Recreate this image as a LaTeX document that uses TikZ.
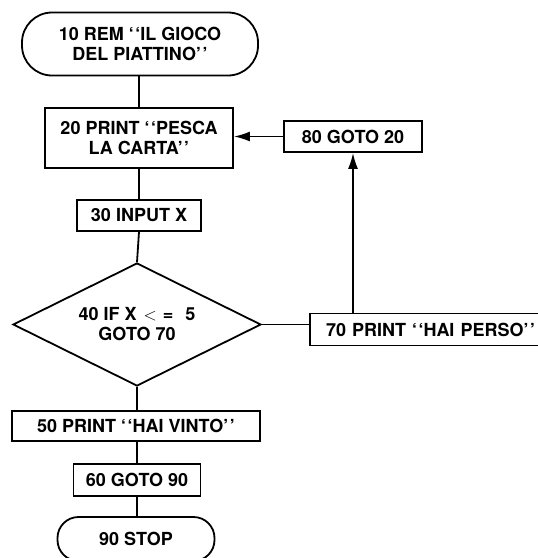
\documentclass[tikz,border=0pt]{standalone}
\usepackage{fontspec}
\setmainfont{TeX Gyre Heros}
\usetikzlibrary{shapes.geometric,arrows.meta}
\newcommand{\oq}{‘\kern1.5pt‘}
\newcommand{\cq}{’\kern1.5pt’}
\tikzset{
  every node/.style={font=\fontsize{18}{20}\selectfont\bfseries, align=center, inner sep=0pt},
  box/.style={draw, line width=1.8pt, rectangle},
  term/.style={draw, line width=1.8pt, rectangle},
  conn/.style={line width=1.8pt},
  arr/.style={line width=1.8pt, -{Latex[length=16pt,width=10pt]}},
}
\begin{document}
\begin{tikzpicture}[x=1pt,y=-1pt]
\clip (0,0) rectangle (538,558);
\fill[white] (0,0) rectangle (538,558);
\node[term, rounded corners=30pt, minimum width=236pt, minimum height=63pt] (t1) at (140,44) {10 REM \oq IL GIOCO\\DEL PIATTINO\cq};
\node[box, minimum width=188pt, minimum height=60pt] (b20) at (139,138) {20 PRINT \oq PESCA\\LA CARTA\cq};
\node[box, minimum width=124pt, minimum height=31pt] (b30) at (139,215.5) {30 INPUT X};
\node[draw, line width=1.8pt, diamond, aspect=2, minimum width=248pt, minimum height=123pt] (d40) at (137,324.5) {40 IF X\kern7pt$<$\kern6pt=\kern12pt5\\GOTO 70};
\node[box, minimum width=248pt, minimum height=30pt] (b50) at (136,426) {50 PRINT \oq HAI VINTO\cq};
\node[box, minimum width=127pt, minimum height=32pt] (b60) at (137,480) {60 GOTO 90};
\node[term, rounded corners=21pt, minimum width=157pt, minimum height=44pt] (t90) at (136,539) {90 STOP};
\node[box, minimum width=138pt, minimum height=31pt] (b80) at (353,136.5) {80 GOTO 20};
\node[box, minimum width=240pt, minimum height=32pt, text width=226pt, align=left] (b70) at (430,329.5) {\hspace*{9pt}70 PRINT \oq HAI PERSO\cq};
\draw[conn] (t1.south -| b20.north) -- (b20.north);
\draw[conn] (b20.south) -- (b30.north);
\draw[conn] (b30.south) -- (d40.north);
\draw[conn] (d40.south) -- (b50.north -| d40.south);
\draw[conn] (b50.south -| b60.north) -- (b60.north);
\draw[conn] (b60.south) -- (t90.north -| b60.south);
\draw[conn] (d40.east) -- (d40.east -| b70.west);
\draw[arr] (b70.north -| b80.south) -- (b80.south);
\draw[arr] (b80.west) -- (b80.west -| b20.east);
\end{tikzpicture}
\end{document}
